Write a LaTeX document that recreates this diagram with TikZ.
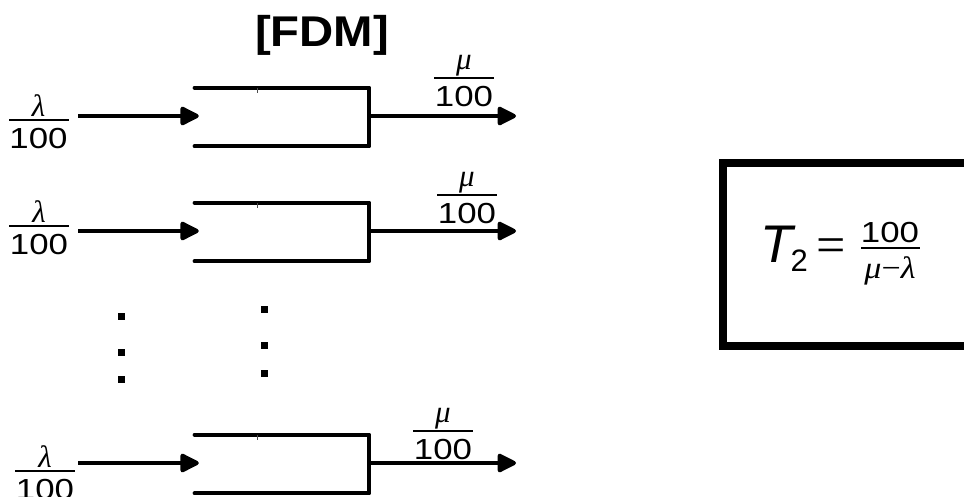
\documentclass[tikz,border=0pt]{standalone}
\usepackage{fontspec}
\setmainfont{Liberation Sans}
\newfontfamily\greekfont{Liberation Serif}
\usepackage{graphicx}
\usetikzlibrary{arrows.meta}

% italic Greek symbol in a serif face
\newcommand\grsym[1]{{\greekfont\itshape #1}}

% a fraction label: rule node #1 at (#2,#3), symbol #4 with its baseline #5 above the rule,
% stretched "100" below
\newcommand\ratiolabel[5]{%
  \node[fracbar] (#1) at (#2,#3) {};
  \node[numtxt] (#1-num) at ([yshift=#5]#1.center) {\grsym{#4}};
  \node[dentxt] (#1-den) at ([yshift=-19pt]#1.center) {\scalebox{1.2}[1]{100}};
}

\begin{document}
\begin{tikzpicture}[x=1pt,y=-1pt,
  wire/.style={line width=4.5pt, line cap=round, line join=round},
  flow/.style={line width=4pt, -{Triangle[length=21pt,width=20pt,round]}},
  queue/.style={rectangle, minimum width=174pt, minimum height=58pt, inner sep=0pt},
  fracbar/.style={rectangle, fill=black, minimum width=60pt, minimum height=2.2pt, inner sep=0pt},
  numtxt/.style={inner sep=0pt, anchor=base, font=\fontsize{31}{34}\selectfont},
  dentxt/.style={inner sep=0pt, font=\fontsize{29}{32}\selectfont},
  vdot/.style={rectangle, fill=black, minimum size=7pt, inner sep=0pt},
  tick/.style={line width=1pt, black!70}
]
\useasboundingbox (0,0) rectangle (964,496);

% title
\node[anchor=base, inner sep=0pt, font=\fontsize{43}{48}\bfseries] (title) at (322,46) {\scalebox{1.1}[1]{[FDM]}};

% three queues with their input and output flows
\foreach \r/\y in {1/116, 2/231, 3/463} {
  \node[queue] (q\r) at (282,\y+1) {};
  \draw[wire] (q\r.north west) -- (q\r.north east) -- (q\r.south east) -- (q\r.south west);
  \draw[tick] ([xshift=-25pt]q\r.north) -- ([xshift=-25pt,yshift=-5pt]q\r.north);
  \coordinate (in\r) at (78,\y);
  \coordinate (out\r) at (516,\y);
  \draw[flow] (in\r) -- ([xshift=4pt,yshift=1pt]q\r.west);
  \draw[flow] ([yshift=1pt]q\r.east) -- (out\r);
}

% arrival and service rates
\ratiolabel{la1}{38.5}{120}{λ}{4pt}
\ratiolabel{la2}{39}{226}{λ}{4pt}
\ratiolabel{la3}{45}{471}{λ}{4pt}
\ratiolabel{mu1}{464}{78}{μ}{9pt}
\ratiolabel{mu2}{467}{195}{μ}{9pt}
\ratiolabel{mu3}{443}{431}{μ}{9pt}

% ellipsis dots between the second and last queue
\foreach \k/\y in {1/316, 2/352, 3/379} \node[vdot] (dl\k) at (121,\y) {};
\foreach \k/\y in {1/309, 2/345, 3/373} \node[vdot] (dr\k) at (264,\y) {};

% result box, running off the right side
\begin{scope}
  \clip (0,0) rectangle (964,496);
  \node[draw, line width=8pt, rectangle, inner sep=0pt, anchor=north west,
        minimum width=280pt, minimum height=183pt] (result) at (719,159) {};
\end{scope}
\node[anchor=base west, inner sep=0pt, font=\fontsize{53}{60}\selectfont] (formula) at (760,262)
  {\textit{T}\kern-5pt\raisebox{-9pt}{\fontsize{31}{34}\selectfont 2}};
\node[anchor=base, inner sep=0pt, font=\fontsize{52}{56}\selectfont] (eq) at (831,262) {\greekfont =};
\node[fracbar, minimum width=59pt] (tfrac) at (890.5,248) {};
\node[dentxt] (tfrac-num) at (890,233) {\scalebox{1.2}[1]{100}};
\node[inner sep=0pt, anchor=base, font=\fontsize{31}{34}\selectfont] (tfrac-den) at (890,278)
  {\scalebox{1.1}[1]{\grsym{μ}{\greekfont −}\grsym{λ}}};
\end{tikzpicture}
\end{document}
